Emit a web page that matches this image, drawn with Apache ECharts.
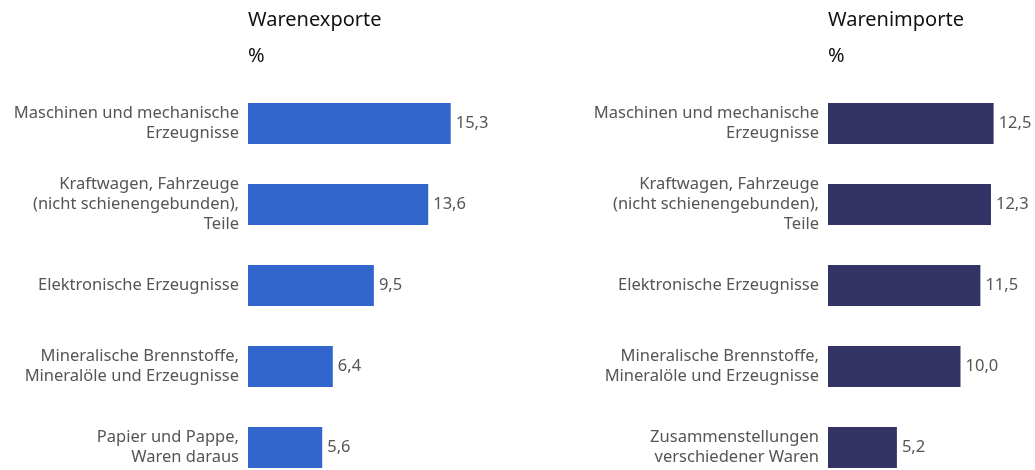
<!DOCTYPE html>
<html>
<head>
<meta charset="utf-8">
<script src="https://cdn.jsdelivr.net/npm/echarts@6/dist/echarts.min.js"></script>
<style>
  html, body { margin: 0; padding: 0; background: #fff; }
  #chart { width: 1035px; height: 470px; }
</style>
</head>
<body>
<div id="chart"></div>
<script>
// Warenexporte / Warenimporte, Anteile in %
var exportCategories = [
  'Maschinen und mechanische\nErzeugnisse',
  'Kraftwagen, Fahrzeuge\n(nicht schienengebunden),\nTeile',
  'Elektronische Erzeugnisse',
  'Mineralische Brennstoffe,\nMineralöle und Erzeugnisse',
  'Papier und Pappe,\nWaren daraus'
];
var exportValues = [15.3, 13.6, 9.5, 6.4, 5.6];

var importCategories = [
  'Maschinen und mechanische\nErzeugnisse',
  'Kraftwagen, Fahrzeuge\n(nicht schienengebunden),\nTeile',
  'Elektronische Erzeugnisse',
  'Mineralische Brennstoffe,\nMineralöle und Erzeugnisse',
  'Zusammenstellungen\nverschiedener Waren'
];
var importValues = [12.5, 12.3, 11.5, 10.0, 5.2];

var panelTitles = ['Warenexporte', 'Warenimporte'];
var unitLabel = '%';

var FONT = '"Noto Sans", sans-serif';
var chart = echarts.init(document.getElementById('chart'));

function fmt(v) {
  return v.toFixed(1).replace('.', ',');
}

function makeTitle(text, left, top) {
  return {
    text: text, left: left, top: top, padding: 0,
    textStyle: { fontFamily: FONT, fontSize: 20, fontWeight: 'normal', color: '#111' }
  };
}

var option = {
  animation: false,
  title: [
    makeTitle(panelTitles[0], 248, 10),
    makeTitle(unitLabel, 248, 46),
    makeTitle(panelTitles[1], 828, 10),
    makeTitle(unitLabel, 828, 46)
  ],
  grid: [
    { left: 248, top: 83, width: 265, height: 405, outerBoundsMode: 'none' },
    { left: 828, top: 83, width: 265, height: 405, outerBoundsMode: 'none' }
  ],
  xAxis: [
    { gridIndex: 0, type: 'value', min: 0, max: 20, show: false },
    { gridIndex: 1, type: 'value', min: 0, max: 20, show: false }
  ],
  yAxis: [0, 1].map(function (i) {
    return {
      gridIndex: i,
      type: 'category',
      inverse: true,
      data: i === 0 ? exportCategories : importCategories,
      axisLine: { show: false },
      axisTick: { show: false },
      axisLabel: {
        margin: 9,
        fontFamily: FONT,
        fontSize: 16.5,
        lineHeight: 20,
        color: '#555',
        align: 'right'
      }
    };
  }),
  series: [
    {
      type: 'bar', xAxisIndex: 0, yAxisIndex: 0,
      data: exportValues, barWidth: 41,
      itemStyle: { color: '#3366cc' },
      label: {
        show: true, position: 'right', distance: 5,
        fontFamily: FONT, fontSize: 16.5, color: '#555',
        formatter: function (p) { return fmt(p.value); }
      }
    },
    {
      type: 'bar', xAxisIndex: 1, yAxisIndex: 1,
      data: importValues, barWidth: 41,
      itemStyle: { color: '#333366' },
      label: {
        show: true, position: 'right', distance: 5,
        fontFamily: FONT, fontSize: 16.5, color: '#555',
        formatter: function (p) { return fmt(p.value); }
      }
    }
  ]
};

chart.setOption(option);
</script>
</body>
</html>
